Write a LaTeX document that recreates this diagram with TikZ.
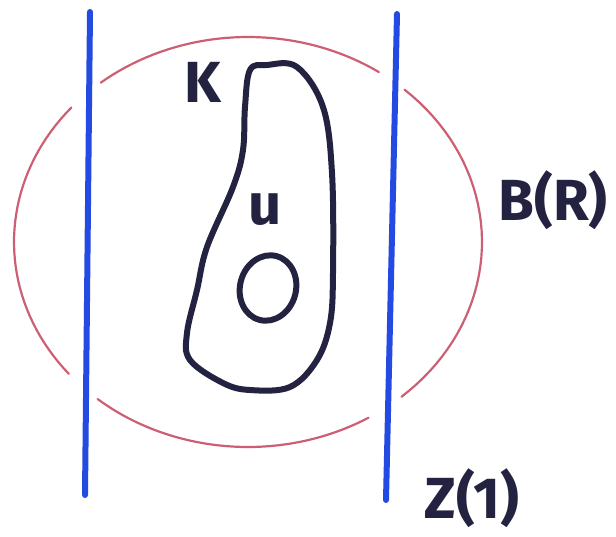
\documentclass[tikz,border=0pt]{standalone}
\usepackage{fontspec}
\setmainfont{Fira Sans}
\definecolor{penblue}{RGB}{35,75,225}
\definecolor{penred}{RGB}{205,95,115}
\definecolor{penink}{RGB}{35,35,65}
\begin{document}
\begin{tikzpicture}[x=1pt,y=-1pt,line cap=round,line join=round,
  ball/.style={penred,line width=2.2pt},
  slab/.style={penblue,line width=6pt},
  ink/.style={penink,line width=6pt},
  lab/.style={penink,font=\fontsize{58}{58}\selectfont\bfseries}]
\useasboundingbox (0,0) rectangle (616,536);
% the ball, broken where the two planes cross it
\foreach \a/\b in {56/129,139/220,230/301,311/408}{
  \draw[ball] plot[domain=\a:\b,samples=40] ({248+234*cos(\x)},{242-205*sin(\x)});
}
% the two planes
\draw[slab] (90,12) -- (85,495);
\draw[slab] (397,14) -- (386,500);
% the set K and the hole O
\draw[ink] plot[smooth cycle,tension=0.6] coordinates {(250,70) (267,65) (297,67)
  (323,107) (332,173) (333,273) (330,323) (317,360) (290,387) (250,390)
  (223,383) (190,360) (187,333) (197,290) (207,247) (233,187) (243,150) (245,107)};
\draw[ink,rotate around={-15:(268,288)}] (268,288) ellipse [x radius=28,y radius=33];
% labels
\node[lab] (kset) at (203,82) {K};
\node[lab] (ufun) at (265,210) {u};
\node[lab] (ballR) at (553,200) {B(R)};
\node[lab] (cylZ) at (472,498) {Z(1)};
\end{tikzpicture}
\end{document}
